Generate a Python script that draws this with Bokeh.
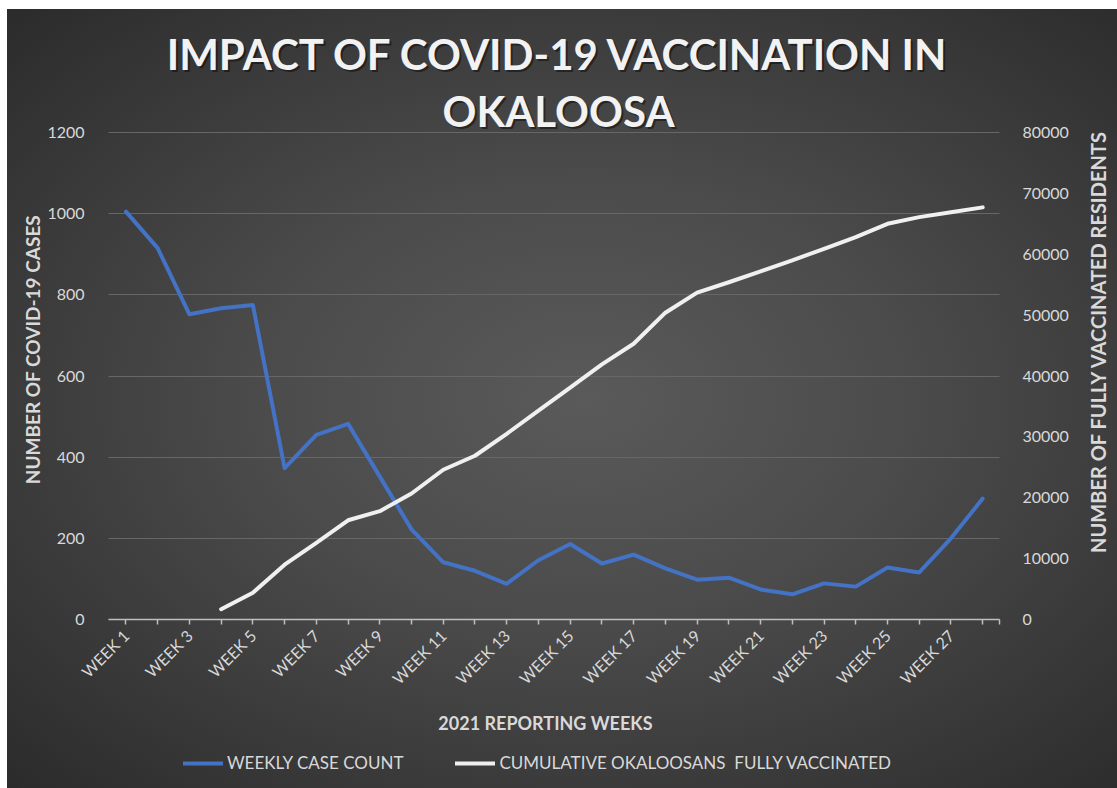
from math import pi, nan
from bokeh.plotting import figure
from bokeh.models import (Range1d, LinearAxis, FixedTicker, Legend, LegendItem,
                          ColumnDataSource, Label)
from bokeh.embed import file_html
from bokeh.resources import INLINE

# ---------------- data ----------------
week_num = list(range(1, 29))
week_labels = [f"WEEK {n}" for n in week_num]
weekly_cases = [1005, 915, 752, 767, 775, 373, 455, 482, 352, 222,
                141, 120, 88, 146, 186, 138, 160, 126, 98, 103,
                74, 62, 89, 81, 128, 116, 200, 298]
cum_vaccinated = [nan, nan, nan, 1700, 4400, 9000, 12600, 16300, 17800, 20700,
                  24600, 26900, 30500, 34300, 38100, 41900, 45300, 50400, 53700, 55400,
                  57200, 59000, 60900, 62800, 65000, 66100, 66900, 67700]
left_ticks = [0, 200, 400, 600, 800, 1000, 1200]
right_ticks = [0, 10000, 20000, 30000, 40000, 50000, 60000, 70000, 80000]

FONT = "Lato"
TXT = "#d9d9d9"

# ---------------- layout (pixels inside the 1110x779 figure) ----------------
W, H = 1110, 779
PA_L, PA_R = 101, 992      # left / right edge of the value area
PA_T, PA_B = 123, 610      # top / bottom (value zero) of the value area
X_LO, X_HI = 0.45, 28.53   # category-axis extent
Y_HI, V_HI = left_ticks[-1], right_ticks[-1]

xpx = (PA_R - PA_L) / (X_HI - X_LO)
ypx = (PA_B - PA_T) / Y_HI
x_start, x_end = X_LO - PA_L / xpx, X_HI + (W - PA_R) / xpx
y_start, y_end = -(H - PA_B) / ypx, Y_HI + PA_T / ypx
vr = V_HI / Y_HI

src = ColumnDataSource(dict(x=week_num, cases=weekly_cases, vax=cum_vaccinated))

p = figure(width=W, height=H, output_backend="svg", toolbar_location=None,
           x_range=Range1d(x_start, x_end), y_range=Range1d(y_start, y_end),
           min_border=0, margin=(9, 0, 0, 7))
p.title.visible = False
p.styles = {"background": "radial-gradient(ellipse at 52% 50%, #5a5a5a 0%, #4b4b4b 40%, #2b2b2b 100%)"}
p.background_fill_color = None
p.border_fill_color = None
p.outline_line_color = None

p.extra_y_ranges = {"vax": Range1d(y_start * vr, y_end * vr)}

# grid
p.xgrid.grid_line_color = None
try:
    p.ygrid.cross_bounds = (X_LO, X_HI)
    p.ygrid.grid_line_color = "#676767"
    p.ygrid.grid_line_width = 1
except Exception:
    p.ygrid.grid_line_color = None
    p.segment(x0=[X_LO] * len(left_ticks), x1=[X_HI] * len(left_ticks),
              y0=left_ticks, y1=left_ticks, line_color="#676767", line_width=1)

# x axis (sits at value zero)
xa = p.xaxis[0]
xa.fixed_location = 0
xa.bounds = (X_LO, X_HI)
xa.ticker = FixedTicker(ticks=week_num, minor_ticks=[X_HI])
xa.major_label_overrides = {n: (lab if n % 2 == 1 else "") for n, lab in zip(week_num, week_labels)}
xa.major_label_orientation = pi / 4
xa.major_label_text_color = TXT
xa.major_label_text_font = FONT
xa.major_label_text_font_size = "16px"
xa.major_label_standoff = 8
xa.axis_line_color = "#bfbfbf"
xa.axis_line_width = 1.5
xa.major_tick_line_color = "#bfbfbf"
xa.major_tick_line_width = 1.5
xa.major_tick_out = 5
xa.major_tick_in = 0
xa.minor_tick_line_color = "#bfbfbf"
xa.minor_tick_line_width = 1.5
xa.minor_tick_out = 5
xa.minor_tick_in = 0

# left y axis
ya = p.yaxis[0]
ya.fixed_location = X_LO
ya.bounds = (0, Y_HI)
ya.ticker = FixedTicker(ticks=left_ticks)
ya.axis_line_color = None
ya.major_tick_line_color = None
ya.minor_tick_line_color = None
ya.major_label_text_color = TXT
ya.major_label_text_font = FONT
ya.major_label_text_font_size = "16px"
ya.major_label_standoff = 18

# right y axis
ra = LinearAxis(y_range_name="vax", ticker=FixedTicker(ticks=right_ticks),
                bounds=(0, V_HI), fixed_location=X_HI)
ra.axis_line_color = None
ra.major_tick_line_color = None
ra.minor_tick_line_color = None
ra.major_label_text_color = TXT
ra.major_label_text_font = FONT
ra.major_label_text_font_size = "16px"
ra.major_label_standoff = 17
p.add_layout(ra, "right")

# lines
r_cases = p.line("x", "cases", source=src, line_color="#4472c4", line_width=4,
                 line_join="round", line_cap="round")
r_vax = p.line("x", "vax", source=src, y_range_name="vax", line_color="#f0f0f0",
               line_width=4, line_join="round", line_cap="round")


def text(txt, sx, sy, size, bold=True, angle=0.0, color=TXT, shadow=False):
    if shadow:
        p.add_layout(Label(x=sx, y=sy, x_units="screen", y_units="screen", text=txt,
                           angle=angle, text_align="center", text_baseline="middle",
                           text_font=FONT, text_font_style="bold" if bold else "normal",
                           text_font_size=size, text_color="#000000", text_alpha=0.45,
                           x_offset=2, y_offset=-2))
    p.add_layout(Label(x=sx, y=sy, x_units="screen", y_units="screen", text=txt,
                       angle=angle, text_align="center", text_baseline="middle",
                       text_font=FONT, text_font_style="bold" if bold else "normal",
                       text_font_size=size, text_color=color))


# screen units: from the figure's bottom-left corner
text("IMPACT OF COVID-19 VACCINATION IN", 551, 735, "42px", color="#f2f2f2", shadow=True)
text("OKALOOSA", 551, 678, "42px", color="#f2f2f2", shadow=True)
text("NUMBER OF COVID-19 CASES", 25, 439, "19px", angle=pi / 2)
text("NUMBER OF FULLY VACCINATED RESIDENTS", 1090, 447, "20px", angle=pi / 2)
text("2021 REPORTING WEEKS", 538, 66, "18px")

# legend
legend = Legend(items=[LegendItem(label="WEEKLY CASE COUNT", renderers=[r_cases]),
                       LegendItem(label="CUMULATIVE OKALOOSANS  FULLY VACCINATED", renderers=[r_vax])],
                orientation="horizontal", location=(176, 15),
                background_fill_alpha=0, border_line_color=None,
                label_text_color=TXT, label_text_font=FONT, label_text_font_size="17px",
                glyph_width=40, glyph_height=20, label_height=20, label_standoff=4,
                spacing=52, padding=0, margin=0)
p.add_layout(legend, "center")

open("out.html", "w").write(file_html(p, INLINE))
